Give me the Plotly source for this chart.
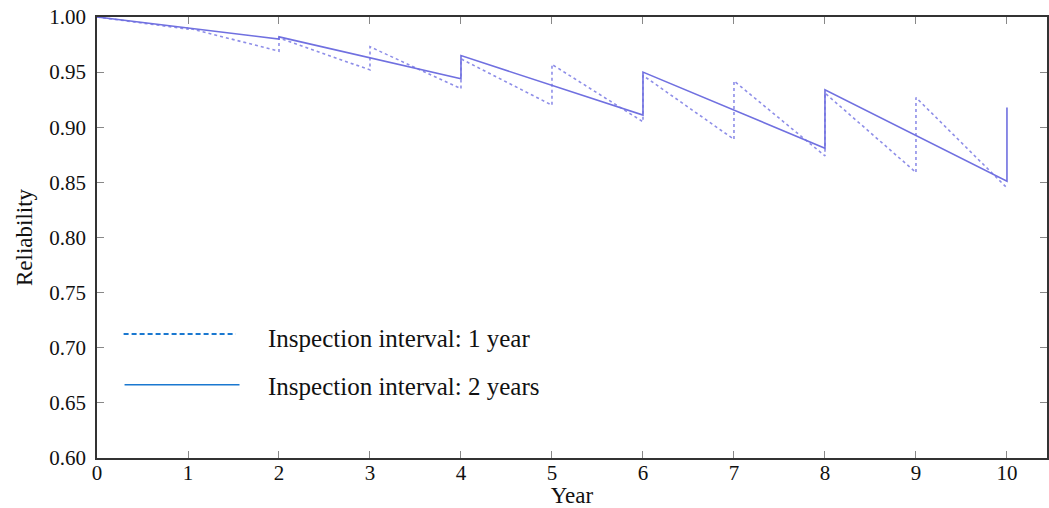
import plotly.graph_objects as go

# Inspection interval: 1 year (sawtooth with yearly restorations)
year_1 = [0, 1, 1, 2, 2, 3, 3, 4, 4, 5, 5, 6, 6, 7, 7, 8, 8, 9, 9, 10]
rel_1 = [1.000, 0.989, 0.990, 0.969, 0.981, 0.952, 0.973, 0.935, 0.962, 0.920,
         0.957, 0.905, 0.947, 0.889, 0.942, 0.874, 0.931, 0.859, 0.927, 0.845]

# Inspection interval: 2 years
year_2 = [0, 2, 2, 4, 4, 6, 6, 8, 8, 10, 10]
rel_2 = [1.000, 0.980, 0.982, 0.944, 0.965, 0.911, 0.950, 0.881, 0.934, 0.851, 0.918]

legend_labels = ["Inspection interval: 1 year", "Inspection interval: 2 years"]
y_ticks = [0.60, 0.65, 0.70, 0.75, 0.80, 0.85, 0.90, 0.95, 1.00]
x_ticks = list(range(0, 11))

FONT = "Liberation Serif"
LINE_COLOR = "#7070e0"
LEG_COLOR = "#1a78d0"

fig = go.Figure()
fig.add_trace(go.Scatter(x=year_1, y=rel_1, mode="lines",
                         line=dict(color="#8e8ee8", width=1.6, dash="dot"),
                         showlegend=False))
fig.add_trace(go.Scatter(x=year_2, y=rel_2, mode="lines",
                         line=dict(color=LINE_COLOR, width=1.6),
                         showlegend=False))

# Legend drawn in paper coordinates
shapes = [
    dict(type="line", xref="paper", yref="paper", x0=0.028, x1=0.146, y0=0.281, y1=0.281,
         line=dict(color=LEG_COLOR, width=2, dash="5px,3px")),
    dict(type="line", xref="paper", yref="paper", x0=0.029, x1=0.150, y0=0.166, y1=0.166,
         line=dict(color=LEG_COLOR, width=1.5)),
]
annotations = [
    dict(xref="paper", yref="paper", x=0.178, y=0.272, text=legend_labels[0],
         showarrow=False, xanchor="left", yanchor="middle",
         font=dict(family=FONT, size=25, color="#111")),
    dict(xref="paper", yref="paper", x=0.178, y=0.161, text=legend_labels[1],
         showarrow=False, xanchor="left", yanchor="middle",
         font=dict(family=FONT, size=25, color="#111")),
]

fig.update_layout(
    width=1049, height=508,
    margin=dict(l=97, r=0, t=17, b=50),
    paper_bgcolor="white", plot_bgcolor="white",
    font=dict(family=FONT, size=21, color="#111"),
    shapes=shapes, annotations=annotations,
    showlegend=False,
)
fig.update_xaxes(
    range=[0, 10.44], tickvals=x_ticks, ticktext=[str(v) for v in x_ticks],
    ticks="inside", ticklen=7, tickcolor="#888", tickwidth=1.2,
    showline=True, linecolor="#333", linewidth=1.5, mirror="ticks",
    showgrid=False, zeroline=False, ticklabelstandoff=-5,
    title=dict(text="Year", font=dict(family=FONT, size=23), standoff=0),
    tickfont=dict(family=FONT, size=21),
)
fig.update_yaxes(
    range=[0.6, 1.0], tickvals=y_ticks, ticktext=[f"{v:.2f}" for v in y_ticks],
    ticks="inside", ticklen=7, tickcolor="#888", tickwidth=1.2,
    showline=True, linecolor="#333", linewidth=1.5, mirror="ticks",
    showgrid=False, zeroline=False, ticklabelstandoff=5,
    title=dict(text="Reliability", font=dict(family=FONT, size=23), standoff=10),
    tickfont=dict(family=FONT, size=21),
)

fig.write_html("out.html")
